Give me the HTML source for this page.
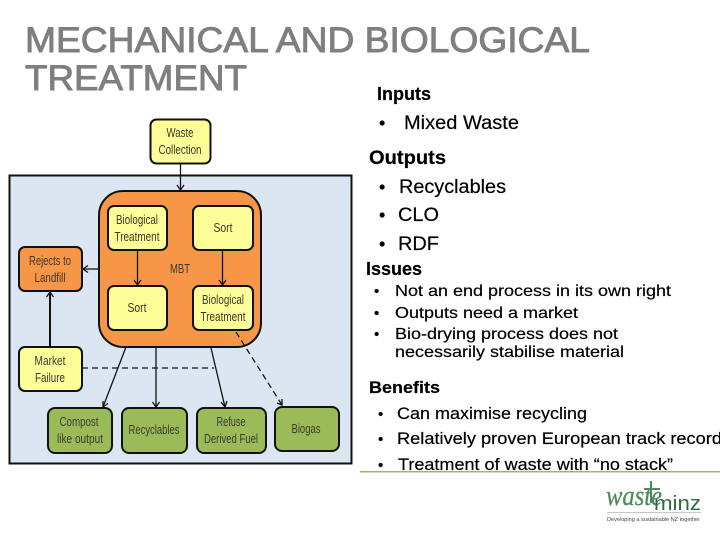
<!DOCTYPE html>
<html><head><meta charset="utf-8"><style>
html,body{margin:0;padding:0;background:#fff;width:720px;height:540px;overflow:hidden}
svg{display:block}
.t{font-family:"Liberation Sans",sans-serif;fill:#000;stroke:#000;stroke-width:.2}
.h{font-family:"Liberation Sans",sans-serif;font-size:35.5px;fill:#7f7f7f;stroke:#7f7f7f;stroke-width:.9}
.d{font-family:"Liberation Sans",sans-serif;font-size:12.5px;fill:#3a3a2a;text-anchor:middle}
.y{fill:#ffff99;stroke:#111;stroke-width:2}
.o{fill:#f79646;stroke:#111;stroke-width:2}
.g{fill:#9bbb59;stroke:#111;stroke-width:2}
.l{fill:none;stroke:#111;stroke-width:1.3}
.a{fill:none;stroke:#111;stroke-width:1.3}
</style></head><body>
<svg width="720" height="540" viewBox="0 0 720 540" xmlns="http://www.w3.org/2000/svg">
<text class="h" x="25" y="52" textLength="565" lengthAdjust="spacingAndGlyphs">MECHANICAL AND BIOLOGICAL</text>
<text class="h" x="25" y="90" textLength="222" lengthAdjust="spacingAndGlyphs">TREATMENT</text>

<rect x="9.500" y="175.500" width="342" height="288" fill="#dce6f2" stroke="#111" stroke-width="2"/>
<rect x="99" y="191" width="162" height="156" rx="24" class="o"/>

<rect x="150.500" y="119.500" width="60" height="44" rx="6" class="y"/>
<rect x="108" y="206" width="59" height="44" rx="6" class="y"/>
<rect x="193" y="206" width="60" height="44" rx="6" class="y"/>
<rect x="108" y="286" width="59" height="44" rx="6" class="y"/>
<rect x="193" y="286" width="60" height="44" rx="6" class="y"/>
<rect x="19" y="247" width="63" height="44" rx="6" class="o"/>
<rect x="19" y="347" width="63" height="44" rx="6" class="y"/>
<rect x="48" y="408" width="64" height="45" rx="7" class="g"/>
<rect x="122" y="408" width="65" height="45" rx="7" class="g"/>
<rect x="197" y="408" width="69" height="45" rx="7" class="g"/>
<rect x="275" y="407" width="64" height="44" rx="7" class="g"/>

<path class="l" d="M180.500 164V190"/><path class="a" d="M177 185l3.500 5 3.500-5"/>
<path class="l" d="M137.500 250V285"/><path class="a" d="M134 280l3.500 5 3.500-5"/>
<path class="l" d="M222.500 250V285"/><path class="a" d="M219 280l3.500 5 3.500-5"/>
<path class="l" d="M99 269H83"/><path class="a" d="M88 265.500l-5 3.500 5 3.500"/>
<path class="l" d="M50 347V292" style="stroke-width:2"/><path class="a" d="M46.500 297l3.500-5 3.500 5"/>
<path class="l" d="M126 347L103 407"/><path class="a" d="M103 401l0 6 5-3.500"/>
<path class="l" d="M156 347V407"/><path class="a" d="M152.500 402l3.500 5 3.500-5"/>
<path class="l" d="M211 348L225 407"/><path class="a" d="M221 402l4 5 2-6"/>
<path class="l" d="M82 368H214" stroke-dasharray="6 4"/>
<path class="l" d="M236 332L282 405" stroke-dasharray="6 4"/><path class="a" d="M277 403l5 2 0-6"/>

<text class="d" x="180" y="137" textLength="27" lengthAdjust="spacingAndGlyphs">Waste</text><text class="d" x="180" y="154" textLength="43" lengthAdjust="spacingAndGlyphs">Collection</text>
<text class="d" x="137" y="224" textLength="42" lengthAdjust="spacingAndGlyphs">Biological</text><text class="d" x="137" y="241" textLength="45" lengthAdjust="spacingAndGlyphs">Treatment</text>
<text class="d" x="223" y="232" textLength="19" lengthAdjust="spacingAndGlyphs">Sort</text>
<text class="d" x="180" y="273" textLength="20" lengthAdjust="spacingAndGlyphs">MBT</text>
<text class="d" x="137" y="312" textLength="19" lengthAdjust="spacingAndGlyphs">Sort</text>
<text class="d" x="223" y="304" textLength="42" lengthAdjust="spacingAndGlyphs">Biological</text><text class="d" x="223" y="321" textLength="45" lengthAdjust="spacingAndGlyphs">Treatment</text>
<text class="d" x="50" y="265" textLength="42" lengthAdjust="spacingAndGlyphs">Rejects to</text><text class="d" x="50" y="282" textLength="31" lengthAdjust="spacingAndGlyphs">Landfill</text>
<text class="d" x="50" y="365" textLength="31" lengthAdjust="spacingAndGlyphs">Market</text><text class="d" x="50" y="382" textLength="30" lengthAdjust="spacingAndGlyphs">Failure</text>
<text class="d" x="79" y="426" textLength="39" lengthAdjust="spacingAndGlyphs">Compost</text><text class="d" x="80" y="443" textLength="46" lengthAdjust="spacingAndGlyphs">like output</text>
<text class="d" x="154" y="434" textLength="51" lengthAdjust="spacingAndGlyphs">Recyclables</text>
<text class="d" x="231" y="426" textLength="29" lengthAdjust="spacingAndGlyphs">Refuse</text><text class="d" x="231" y="443" textLength="54" lengthAdjust="spacingAndGlyphs">Derived Fuel</text>
<text class="d" x="306" y="433" textLength="29" lengthAdjust="spacingAndGlyphs">Biogas</text>

<g>
<text class="t" x="377" y="100" font-size="18" font-weight="bold" textLength="54" lengthAdjust="spacingAndGlyphs">Inputs</text>
<text class="t" x="379" y="129" font-size="18">•</text>
<text class="t" x="404" y="129" font-size="19.500" textLength="115" lengthAdjust="spacingAndGlyphs">Mixed Waste</text>
<text class="t" x="369" y="164" font-size="19.500" font-weight="bold" textLength="77" lengthAdjust="spacingAndGlyphs">Outputs</text>
<text class="t" x="379" y="193" font-size="18">•</text><text class="t" x="399" y="193" font-size="19.500" textLength="107" lengthAdjust="spacingAndGlyphs">Recyclables</text>
<text class="t" x="379" y="221" font-size="18">•</text><text class="t" x="398" y="221" font-size="19.500" textLength="41" lengthAdjust="spacingAndGlyphs">CLO</text>
<text class="t" x="379" y="250" font-size="18">•</text><text class="t" x="398" y="250" font-size="19.500" textLength="41" lengthAdjust="spacingAndGlyphs">RDF</text>
<text class="t" x="366" y="275" font-size="18" font-weight="bold" textLength="56" lengthAdjust="spacingAndGlyphs">Issues</text>
<text class="t" x="374" y="296" font-size="15">•</text><text class="t" x="395" y="296" font-size="16" textLength="276" lengthAdjust="spacingAndGlyphs">Not an end process in its own right</text>
<text class="t" x="374" y="318" font-size="15">•</text><text class="t" x="395" y="318" font-size="16" textLength="183" lengthAdjust="spacingAndGlyphs">Outputs need a market</text>
<text class="t" x="374" y="339" font-size="15">•</text><text class="t" x="395" y="339" font-size="16" textLength="223" lengthAdjust="spacingAndGlyphs">Bio-drying process does not</text>
<text class="t" x="395" y="357" font-size="16" textLength="229" lengthAdjust="spacingAndGlyphs">necessarily stabilise material</text>
<text class="t" x="369" y="393" font-size="16.500" font-weight="bold" textLength="71" lengthAdjust="spacingAndGlyphs">Benefits</text>
<text class="t" x="378" y="419" font-size="15">•</text><text class="t" x="397" y="419" font-size="16.500" textLength="190" lengthAdjust="spacingAndGlyphs">Can maximise recycling</text>
<text class="t" x="378" y="444" font-size="15">•</text><text class="t" x="397" y="444" font-size="16.500" textLength="325" lengthAdjust="spacingAndGlyphs">Relatively proven  European track record</text>
<text class="t" x="378" y="470" font-size="15">•</text><text class="t" x="398" y="470" font-size="16.500" textLength="275" lengthAdjust="spacingAndGlyphs">Treatment of waste with “no stack”</text>
</g>

<rect x="360" y="471" width="360" height="1.500" fill="#9bbb59"/>
<text x="606" y="505" font-family="Liberation Serif,serif" font-style="italic" font-size="29" style="fill:#4f8a5b;stroke:#4f8a5b;stroke-width:.3" textLength="56" lengthAdjust="spacingAndGlyphs">waste</text>
<path d="M651 481V503M644 489H660" fill="none" stroke="#4f8a5b" stroke-width="2"/>
<text x="654" y="510" font-family="Liberation Sans,sans-serif" font-size="20" style="fill:#2f6b45" textLength="47" lengthAdjust="spacingAndGlyphs">minz</text>
<rect x="607" y="512" width="94" height="1" fill="#bcd0bc"/>
<text x="607" y="521" font-family="Liberation Sans,sans-serif" font-size="5.500" style="fill:#444" textLength="93" lengthAdjust="spacingAndGlyphs">Developing a sustainable NZ together</text>
</svg>
</body></html>
